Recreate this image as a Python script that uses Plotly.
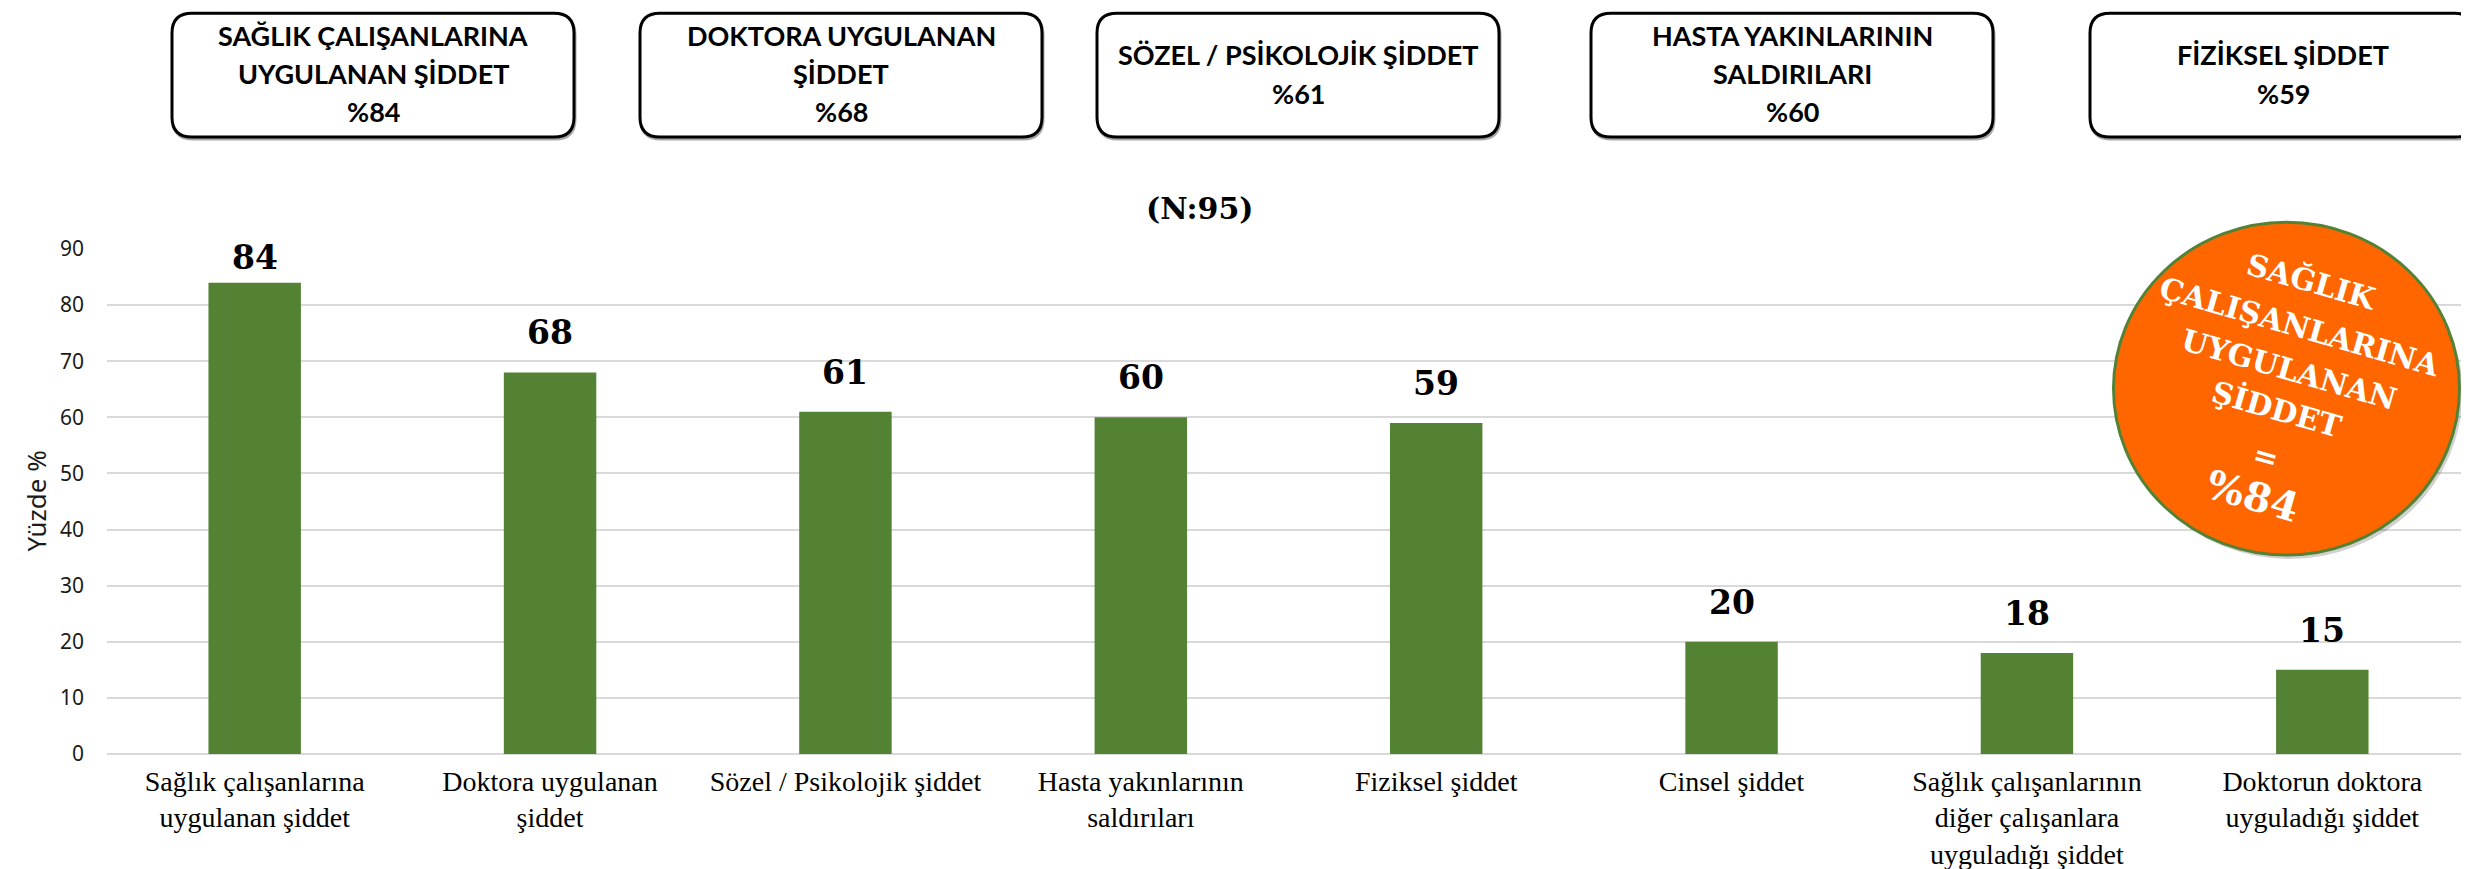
import plotly.graph_objects as go

# ---------------- data ----------------
categories = [
    "Sağlık çalışanlarına uygulanan şiddet",
    "Doktora uygulanan şiddet",
    "Sözel / Psikolojik şiddet",
    "Hasta yakınlarının saldırıları",
    "Fiziksel şiddet",
    "Cinsel şiddet",
    "Sağlık çalışanlarının diğer çalışanlara uyguladığı şiddet",
    "Doktorun doktora uyguladığı şiddet",
]
tick_labels = [
    "Sağlık çalışanlarına<br>uygulanan şiddet",
    "Doktora uygulanan<br>şiddet",
    "Sözel / Psikolojik şiddet",
    "Hasta yakınlarının<br>saldırıları",
    "Fiziksel şiddet",
    "Cinsel şiddet",
    "Sağlık çalışanlarının<br>diğer çalışanlara<br>uyguladığı şiddet",
    "Doktorun doktora<br>uyguladığı şiddet",
]
values = [84, 68, 61, 60, 59, 20, 18, 15]
y_ticks = [0, 10, 20, 30, 40, 50, 60, 70, 80, 90]
y_title = "Yüzde %"
chart_title = "(N:95)"

box_titles = [
    ["SAĞLIK ÇALIŞANLARINA", "UYGULANAN ŞİDDET"],
    ["DOKTORA UYGULANAN", "ŞİDDET"],
    ["SÖZEL / PSİKOLOJİK ŞİDDET"],
    ["HASTA YAKINLARININ", "SALDIRILARI"],
    ["FİZİKSEL ŞİDDET"],
]
box_values = [84, 68, 61, 60, 59]
badge_lines = ["SAĞLIK", "ÇALIŞANLARINA", "UYGULANAN", "ŞİDDET", "=", "%84"]

# ---------------- layout geometry (pixels) ----------------
FIG_W, FIG_H = 2469, 869
ML, MR, MT, MB = 99, 7, 241, 118
PL, PR, PT, PB = ML, FIG_W - MR, MT, FIG_H - MB
PW, PH = PR - PL, PB - PT
Y_MAX = 90


def fx(px):
    return (px - PL) / PW


def fy(py):
    return (PB - py) / PH


GREEN = "#548235"
ORANGE = "#FF6600"
GRID = "#D9D9D9"

fig = go.Figure()
fig.add_trace(go.Bar(
    x=categories,
    y=values,
    marker=dict(color=GREEN, line=dict(width=0)),
    hoverinfo="x+y",
))

annotations = []
shapes = []

# data labels
px_per_unit = PH / Y_MAX
for c, v in zip(categories, values):
    headroom = (Y_MAX - v) * px_per_unit
    shift = min(18, headroom - 30)
    annotations.append(dict(
        x=c, y=v, xref="x", yref="y", text=str(v), showarrow=False,
        yanchor="bottom", xanchor="center", yshift=shift,
        font=dict(family="DejaVu Serif", size=33, color="#000000", weight="bold"),
    ))

# chart title
annotations.append(dict(
    x=fx(1192), y=fy(200), xref="paper", yref="paper", text="<b>" + chart_title + "</b>",
    showarrow=False, xanchor="center", yanchor="middle",
    font=dict(family="DejaVu Serif", size=30, color="#000000"),
))

# y-axis title
annotations.append(dict(
    x=fx(27), y=0.5, xref="paper", yref="paper", text=y_title, textangle=-90,
    showarrow=False, xanchor="center", yanchor="middle",
    font=dict(family="Noto Sans", size=26, color="#1a1a1a"),
))

# top boxes
box_x = [(164, 566), (632, 1034), (1089, 1491), (1583, 1985), (2082, 2467)]
box_y0, box_y1 = 3, 128
rad = 20


def rounded_path(x0, y0, x1, y1, r):
    pts = [
        f"M {fx(x0 + r)},{fy(y0)}",
        f"L {fx(x1 - r)},{fy(y0)}",
        f"Q {fx(x1)},{fy(y0)} {fx(x1)},{fy(y0 + r)}",
        f"L {fx(x1)},{fy(y1 - r)}",
        f"Q {fx(x1)},{fy(y1)} {fx(x1 - r)},{fy(y1)}",
        f"L {fx(x0 + r)},{fy(y1)}",
        f"Q {fx(x0)},{fy(y1)} {fx(x0)},{fy(y1 - r)}",
        f"L {fx(x0)},{fy(y0 + r)}",
        f"Q {fx(x0)},{fy(y0)} {fx(x0 + r)},{fy(y0)}",
        "Z",
    ]
    return " ".join(pts)


for (x0, x1), lines, val in zip(box_x, box_titles, box_values):
    shapes.append(dict(type="path", xref="paper", yref="paper",
                       path=rounded_path(x0 + 1, box_y0 + 2, x1 + 1, box_y1 + 2, rad),
                       line=dict(color="rgba(0,0,0,0.35)", width=3), fillcolor="rgba(0,0,0,0)",
                       layer="below"))
    shapes.append(dict(type="path", xref="paper", yref="paper",
                       path=rounded_path(x0, box_y0, x1, box_y1, rad),
                       line=dict(color="#000000", width=3), fillcolor="#FFFFFF"))
    all_lines = lines + ["%" + str(val)]
    cx = (x0 + x1) / 2 if x1 < FIG_W - 5 else 2275
    if len(all_lines) == 3:
        ys = [25, 64, 102]
    else:
        ys = [45, 84]
    for t, yy in zip(all_lines, ys):
        annotations.append(dict(
            x=fx(cx), y=fy(yy), xref="paper", yref="paper", text="<b>" + t + "</b>",
            showarrow=False, xanchor="center", yanchor="middle",
            font=dict(family="Lato", size=27, color="#000000"),
        ))

# orange badge
cxb, cyb, rx, ry = 2278.5, 382, 173, 168
shapes.append(dict(type="circle", xref="paper", yref="paper",
                   x0=fx(cxb - rx + 3), x1=fx(cxb + rx + 3), y0=fy(cyb + ry + 4), y1=fy(cyb - ry + 4),
                   fillcolor="rgba(0,0,0,0.18)", line=dict(width=0)))
shapes.append(dict(type="circle", xref="paper", yref="paper",
                   x0=fx(cxb - rx), x1=fx(cxb + rx), y0=fy(cyb + ry), y1=fy(cyb - ry),
                   fillcolor=ORANGE, line=dict(color=GREEN, width=3)))
badge_pos = [(2303, 274), (2291, 319), (2281, 363), (2269, 403), (2257, 451), (2245, 490)]
badge_size = [30, 30, 30, 30, 30, 40]
for t, (bx, by), s in zip(badge_lines, badge_pos, badge_size):
    annotations.append(dict(
        x=fx(bx), y=fy(by), xref="paper", yref="paper", text="<b>" + t + "</b>",
        showarrow=False, xanchor="center", yanchor="middle", textangle=16,
        font=dict(family="DejaVu Serif", size=s, color="#FFFFFF"),
    ))

fig.update_layout(
    width=FIG_W, height=FIG_H,
    margin=dict(l=ML, r=MR, t=MT, b=MB, pad=0),
    paper_bgcolor="#FFFFFF", plot_bgcolor="#FFFFFF",
    bargap=0.687,
    showlegend=False,
    annotations=annotations,
    shapes=shapes,
    xaxis=dict(
        tickmode="array", tickvals=categories, ticktext=tick_labels,
        tickangle=0, showgrid=False, showline=False, ticks="",
        ticklabelstandoff=8,
        tickfont=dict(family="Liberation Serif", size=28, color="#000000"),
    ),
    yaxis=dict(
        range=[0, Y_MAX], tickmode="array", tickvals=y_ticks,
        showgrid=True, gridcolor=GRID, gridwidth=1.5,
        zeroline=True, zerolinecolor=GRID, zerolinewidth=1.5,
        showline=False, ticks="", ticklabelstandoff=22,
        tickfont=dict(family="Noto Sans", size=21, color="#1a1a1a"),
    ),
)

fig.write_html("out.html")
